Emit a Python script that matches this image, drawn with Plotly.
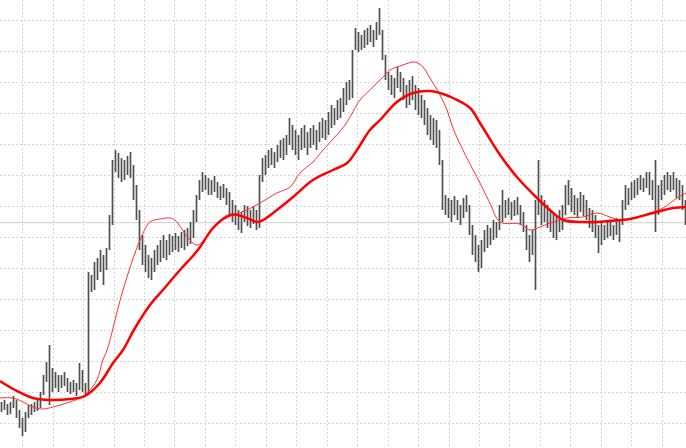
import plotly.graph_objects as go

# bar highs / lows (price units)
high = [98,100,96,98,104,100,90,82,88,95,96,98,100,108,125,138,155,132,128,125,
        125,128,122,118,120,117,137,130,117,228,225,238,242,250,245,252,285,340,350,347,
        342,340,344,348,335,315,290,265,255,245,242,250,255,260,265,260,266,264,267,264,
        268,270,272,278,290,305,320,328,325,322,320,324,318,314,316,312,308,300,295,290,
        288,295,294,290,294,290,325,342,345,350,352,348,355,360,362,365,382,375,370,365,
        372,375,368,372,375,370,378,382,380,388,395,392,400,402,412,418,420,450,472,468,
        465,470,472,475,470,478,492,470,445,428,425,422,433,428,422,415,420,424,415,412,
        405,400,392,385,382,380,370,340,305,302,300,304,300,295,302,305,295,275,265,255,
        260,270,275,272,280,278,295,310,300,302,298,300,303,295,288,275,265,270,300,340,
        305,300,295,290,288,285,290,295,315,320,312,305,302,308,305,300,292,290,285,275,
        278,275,278,280,275,282,280,300,315,312,318,320,322,325,322,328,328,320,340,315,
        320,325,328,325,328,322,320,315,300]
low = [88,90,85,86,92,82,72,64,68,82,85,88,89,92,105,118,95,108,112,108,
       112,114,108,106,108,104,110,108,104,105,208,210,220,228,215,230,250,275,328,322,
       318,320,325,322,300,280,250,235,228,222,220,228,235,238,242,240,245,248,250,248,
       252,250,254,256,262,278,300,308,310,305,305,308,302,300,302,295,285,278,275,270,
       267,278,274,272,276,270,272,318,325,332,335,332,338,342,340,345,355,350,345,340,
       350,352,345,352,355,350,358,362,360,365,372,375,380,382,388,395,400,402,450,448,
       450,452,455,458,453,460,465,440,420,410,405,402,412,408,400,392,395,400,390,385,
       382,375,365,360,355,352,335,290,285,282,278,285,280,275,282,288,265,245,238,228,
       232,248,252,255,260,262,270,278,282,285,280,284,285,275,268,250,238,245,210,285,
       275,278,272,268,262,260,268,270,285,295,288,285,282,288,284,280,272,268,262,247,
       255,260,262,264,260,265,258,275,290,295,300,302,305,310,308,312,305,300,268,285,
       300,305,310,308,310,302,300,290,275]
bar_idx = list(range(len(high)))

# slow moving average (thick)
slow_x = [-0.5,4.5,10.5,16.2,22.8,27.8,32.8,37.2,40.5,44.5,49.5,53.8,59.5,63.8,66.2,70.5,
          76.2,78.8,81.8,85.2,87.2,91.8,97.2,103.8,110.5,115.2,118.5,122.8,126.2,131.8,137.2,
          142.8,147.2,150.5,156.2,159.5,166.2,171.8,178.5,182.8,187.2,193.8,198.5,202.8,209.5,
          217.2,223.8,228.2]
slow_y = [119,110,102,100,101,104,117,137,150,172,195,210,230,244,253,272,
          285,285,282,278,280,290,303,320,330,337,350,370,380,398,407,
          409,406,402,392,377,345,323,302,290,280,278,278,279,281,
          287,292,293]

# fast moving average (thin)
fast_x = [-0.5,3.8,7.2,10.5,13.8,17.2,21.8,26.2,28.5,31.8,33.8,35.2,40.5,46.2,49.5,52.8,
          56.2,57.8,62.8,65.2,68.5,71.8,77.2,81.8,86.2,91.8,96.2,99.5,103.8,107.2,114.5,
          119.5,122.8,127.2,129.5,133.8,137.8,140.5,142.8,146.2,148.5,150.5,153.8,157.2,
          159.5,162.8,166.2,172.8,176.2,179.5,183.8,188.5,193.8,198.5,202.8,206.2,210.5,
          216.2,220.5,225.2,228.2]
fast_y = [102,102,98,93,91,93,97,102,107,120,140,150,210,260,278,281,
          282,280,260,255,263,277,285,290,297,307,313,327,338,350,375,
          400,410,423,430,435,438,433,422,405,390,372,350,330,
          317,297,278,276,270,273,278,282,283,287,283,280,282,
          287,292,302,307]

level = 277.3

# high-low segments for every bar, separated by gaps
seg_x, seg_y = [], []
for i, h, l in zip(bar_idx, high, low):
    seg_x += [i, i, None]
    seg_y += [l, h, None]

fig = go.Figure()
fig.add_trace(go.Scatter(x=seg_x, y=seg_y, mode="lines", connectgaps=False,
                         line=dict(color="#505050", width=1.7),
                         showlegend=False, hoverinfo="skip"))
fig.add_trace(go.Scatter(x=fast_x, y=fast_y, mode="lines",
                         line=dict(color="#ff3030", width=1, shape="spline"),
                         showlegend=False, hoverinfo="skip"))
fig.add_trace(go.Scatter(x=slow_x, y=slow_y, mode="lines",
                         line=dict(color="#ff0000", width=2.5, shape="spline"),
                         showlegend=False, hoverinfo="skip"))
fig.add_hline(y=level, line=dict(color="#cfcfcf", width=1), layer="below")

fig.update_layout(
    width=686, height=448, margin=dict(l=0, r=0, t=0, b=0),
    paper_bgcolor="white", plot_bgcolor="white",
)
fig.update_xaxes(range=[-0.5, 228.17], showticklabels=False, zeroline=False,
                 showline=False, showgrid=True, gridcolor="#d6d6d6", gridwidth=1,
                 griddash="2px,2px", tick0=7.07, dtick=10.15)
fig.update_yaxes(range=[52, 500], showticklabels=False, zeroline=False,
                 showline=False, showgrid=True, gridcolor="#d6d6d6", gridwidth=1,
                 griddash="2px,2px", tick0=480, dtick=31)

fig.write_html("out.html", config={"displayModeBar": False},
               post_script="document.body.style.margin='0';"
                           "document.body.style.overflow='hidden';")
